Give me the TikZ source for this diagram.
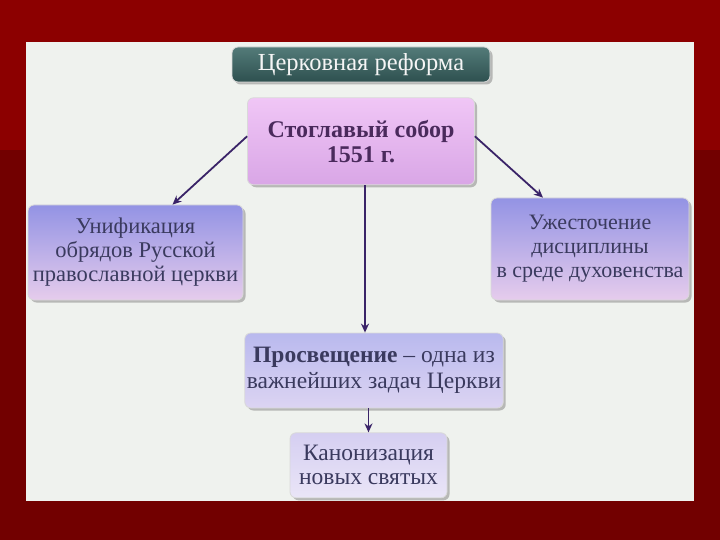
\documentclass[tikz,border=0pt]{standalone}
\usepackage{fontspec}
\setmainfont{Liberation Serif}
\usetikzlibrary{arrows.meta,positioning,shadows}
\definecolor{frame}{HTML}{8C0000}
\definecolor{framedk}{HTML}{720000}
\definecolor{paper}{HTML}{EFF2EE}
\definecolor{tealtop}{HTML}{537B79}
\definecolor{tealbot}{HTML}{2E504F}
\definecolor{lilac}{HTML}{F0C6F6}
\definecolor{lilacdk}{HTML}{D9A6E6}
\definecolor{bluev}{HTML}{9393E4}
\definecolor{pinkv}{HTML}{E6CCEC}
\definecolor{paleb}{HTML}{B9B9EE}
\definecolor{palep}{HTML}{DCD4F2}
\definecolor{ink}{HTML}{3A2468}
\definecolor{plum}{HTML}{4A2A5C}
\definecolor{slate}{HTML}{3A3A5E}

\begin{document}
\begin{tikzpicture}[
  x=1pt,y=-1pt,
  node distance=15pt and 20pt,
  card/.style={rounded corners=6pt,draw=white!70!gray,line width=0.8pt,align=center,inner sep=2pt,
    drop shadow={shadow xshift=2.5pt,shadow yshift=-2.5pt,opacity=0.45,fill=black!55}},
  head/.style={card,top color=tealtop,bottom color=tealbot,text=white!92!gray,
    minimum width=258pt,minimum height=35pt,font=\fontsize{24.5}{26}\selectfont},
  council/.style={card,top color=lilac,bottom color=lilacdk,text=plum,
    minimum width=227pt,minimum height=87pt,font=\bfseries\fontsize{24}{25}\selectfont},
  side/.style={card,top color=bluev,bottom color=pinkv,text=slate,
    font=\fontsize{22.5}{24}\selectfont},
  task/.style={card,top color=paleb,bottom color=palep,text=slate,
    font=\fontsize{23.5}{25.5}\selectfont},
  arr/.style={-{Stealth[length=9pt,width=8pt]},line width=1.8pt,draw=ink}
]
% frame and panel
\fill[framedk] (0,0) rectangle (720,540);
\fill[frame] (0,0) rectangle (720,150);
\fill[paper] (26,42) rectangle (694,501);
\useasboundingbox (0,0) rectangle (720,540);

\node[head] (title) at (361,64.5) {Церковная реформа};
\node[council,below=15pt of title] (sob) {Стоглавый собор\\1551 г.};
\node[side,minimum width=215pt,minimum height=95pt] (uni) at (135.5,252.5)
  {Унификация\\обрядов Русской\\православной церкви};
\node[side,font=\fontsize{22}{24}\selectfont,minimum width=198pt,minimum height=102pt] (uzh) at (590,249)
  {Ужесточение\\дисциплины\\в среде духовенства};
\node[task,minimum width=256pt,minimum height=75pt] (pros) at (374,370.5)
  {\textbf{Просвещение} -- одна из\\важнейших задач Церкви};
\node[task,top color=palep!80!paleb,bottom color=palep!60!white,font=\fontsize{23.5}{24}\selectfont,
  minimum width=157pt,minimum height=65pt,below=24pt of pros,xshift=-5.5pt] (kan)
  {Канонизация\\новых святых};

\draw[arr] ([yshift=5pt]sob.west) -- ([xshift=37pt]uni.north);
\draw[arr] ([yshift=5pt]sob.east) -- ([xshift=-47pt]uzh.north);
\draw[arr] ([xshift=4pt]sob.south) -- ([xshift=4pt]sob.south |- pros.north);
\draw[arr] (kan.north |- pros.south) -- (kan.north);
\end{tikzpicture}
\end{document}
